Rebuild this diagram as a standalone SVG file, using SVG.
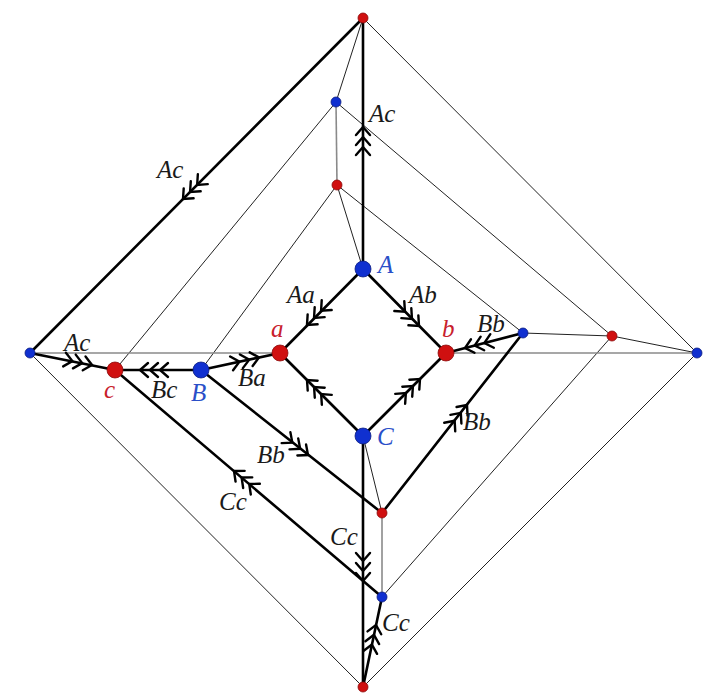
<svg xmlns="http://www.w3.org/2000/svg" width="720" height="694" viewBox="0 0 720 694">
<style>
.thick{stroke:#000;stroke-width:2.6;fill:none;stroke-linecap:round}
.thin{stroke:#222;stroke-width:1;fill:none}
.gray{stroke:#8a8a8a;stroke-width:1.6;fill:none}
.chev{stroke:#000;stroke-width:2.4;fill:none;stroke-linecap:round;stroke-linejoin:miter}
.lbl{font-family:"Liberation Serif",serif;font-style:italic;font-size:25px;fill:#1a1a1a}
.rl{font-family:"Liberation Serif",serif;font-style:italic;font-size:25px;fill:#c8202c}
.bl{font-family:"Liberation Serif",serif;font-style:italic;font-size:25px;fill:#2a4fc8}
.red{fill:#d01010;stroke:#8a0a0a;stroke-width:0.8}
.blue{fill:#1030d0;stroke:#0a1c80;stroke-width:0.8}
</style>
<defs>
<g id="tri">
<path class="chev" d="M-8,-7 L0,0 L-8,7 M-18,-7 L-10,0 L-18,7 M-28,-7 L-20,0 L-28,7"/>
</g>
</defs>
<g id="connectors">
<line class="thin" x1="363" y1="18" x2="336" y2="102"/>
<line class="thin" x1="363" y1="18" x2="697" y2="353"/>
<line class="gray" x1="336" y1="102" x2="337" y2="185"/>
<line class="thin" x1="336" y1="102" x2="115" y2="370"/>
<line class="thin" x1="336" y1="102" x2="612" y2="336"/>
<line class="thin" x1="337" y1="185" x2="363" y2="269"/>
<line class="thin" x1="337" y1="185" x2="201" y2="370"/>
<line class="thin" x1="337" y1="185" x2="523" y2="333"/>
<line class="thin" x1="523" y1="333" x2="612" y2="336"/>
<line class="thin" x1="612" y1="336" x2="697" y2="353"/>
<line class="thin" x1="612" y1="336" x2="382" y2="597"/>
<line class="thin" x1="697" y1="353" x2="363" y2="687"/>
<line class="thin" x1="30" y1="353" x2="363" y2="687"/>
<line class="gray" x1="30" y1="353" x2="280" y2="353"/>
<line class="gray" x1="446" y1="353" x2="697" y2="353"/>
<line class="thin" x1="363" y1="436" x2="382" y2="513"/>
<line class="gray" x1="382" y1="513" x2="382" y2="597"/>
<line class="thick" x1="363" y1="18" x2="363" y2="269"/>
<line class="thick" x1="363" y1="18" x2="30" y2="353"/>
<line class="thick" x1="30" y1="353" x2="115" y2="370"/>
<line class="thick" x1="115" y1="370" x2="201" y2="370"/>
<line class="thick" x1="201" y1="370" x2="280" y2="353"/>
<line class="thick" x1="363" y1="269" x2="280" y2="353"/>
<line class="thick" x1="363" y1="269" x2="446" y2="353"/>
<line class="thick" x1="363" y1="436" x2="280" y2="353"/>
<line class="thick" x1="363" y1="436" x2="446" y2="353"/>
<line class="thick" x1="446" y1="353" x2="523" y2="333"/>
<line class="thick" x1="523" y1="333" x2="382" y2="513"/>
<line class="thick" x1="201" y1="370" x2="382" y2="513"/>
<line class="thick" x1="115" y1="370" x2="382" y2="597"/>
<line class="thick" x1="363" y1="436" x2="363" y2="687"/>
<line class="thick" x1="382" y1="597" x2="363" y2="687"/>
<g id="arrows">
<use href="#tri" transform="translate(363,127) rotate(-90)"/>
<use href="#tri" transform="translate(183,199) rotate(135)"/>
<use href="#tri" transform="translate(92,365) rotate(11.3)"/>
<use href="#tri" transform="translate(140,370) rotate(180)"/>
<use href="#tri" transform="translate(259,357.5) rotate(-12.1)"/>
<use href="#tri" transform="translate(307,325) rotate(134.7)"/>
<use href="#tri" transform="translate(419,326) rotate(45.3)"/>
<use href="#tri" transform="translate(307,380) rotate(-135)"/>
<use href="#tri" transform="translate(420,379) rotate(-45)"/>
<use href="#tri" transform="translate(465,348) rotate(165.4)"/>
<use href="#tri" transform="translate(467,405) rotate(-51.9)"/>
<use href="#tri" transform="translate(308,455) rotate(38.3)"/>
<use href="#tri" transform="translate(234,471) rotate(-139.6)"/>
<use href="#tri" transform="translate(363,581) rotate(90)"/>
<use href="#tri" transform="translate(376,625) rotate(-78.1)"/>
</g>
</g>
<g id="edge-labels">
<text class="lbl" x="369" y="122">Ac</text>
<text class="lbl" x="157" y="178">Ac</text>
<text class="lbl" x="64" y="351">Ac</text>
<text class="lbl" x="287" y="303">Aa</text>
<text class="lbl" x="409" y="303">Ab</text>
<text class="lbl" x="151" y="398">Bc</text>
<text class="lbl" x="238" y="386">Ba</text>
<text class="lbl" x="477" y="332">Bb</text>
<text class="lbl" x="463" y="430">Bb</text>
<text class="lbl" x="257" y="463">Bb</text>
<text class="lbl" x="219" y="510">Cc</text>
<text class="lbl" x="330" y="545">Cc</text>
<text class="lbl" x="382" y="631">Cc</text>
</g>
<g id="node-top"><circle class="red" cx="363" cy="18" r="5"/></g>
<g id="node-u1"><circle class="blue" cx="336" cy="102" r="5"/></g>
<g id="node-u2"><circle class="red" cx="337" cy="185" r="5"/></g>
<g id="node-A"><circle class="blue" cx="363" cy="269" r="8"/><text class="bl" x="378" y="273">A</text></g>
<g id="node-a"><circle class="red" cx="280" cy="353" r="8"/><text class="rl" x="271" y="337">a</text></g>
<g id="node-b"><circle class="red" cx="446" cy="353" r="8"/><text class="rl" x="442" y="337">b</text></g>
<g id="node-C"><circle class="blue" cx="363" cy="436" r="8"/><text class="bl" x="377" y="445">C</text></g>
<g id="node-B"><circle class="blue" cx="201" cy="370" r="8"/><text class="bl" x="191" y="401">B</text></g>
<g id="node-c"><circle class="red" cx="115" cy="370" r="8"/><text class="rl" x="104" y="398">c</text></g>
<g id="node-left"><circle class="blue" cx="30" cy="353" r="5"/></g>
<g id="node-r1"><circle class="blue" cx="523" cy="333" r="5"/></g>
<g id="node-r2"><circle class="red" cx="612" cy="336" r="5"/></g>
<g id="node-right"><circle class="blue" cx="697" cy="353" r="5"/></g>
<g id="node-d1"><circle class="red" cx="382" cy="513" r="5"/></g>
<g id="node-d2"><circle class="blue" cx="382" cy="597" r="5"/></g>
<g id="node-bottom"><circle class="red" cx="363" cy="687" r="5"/></g>
</svg>
